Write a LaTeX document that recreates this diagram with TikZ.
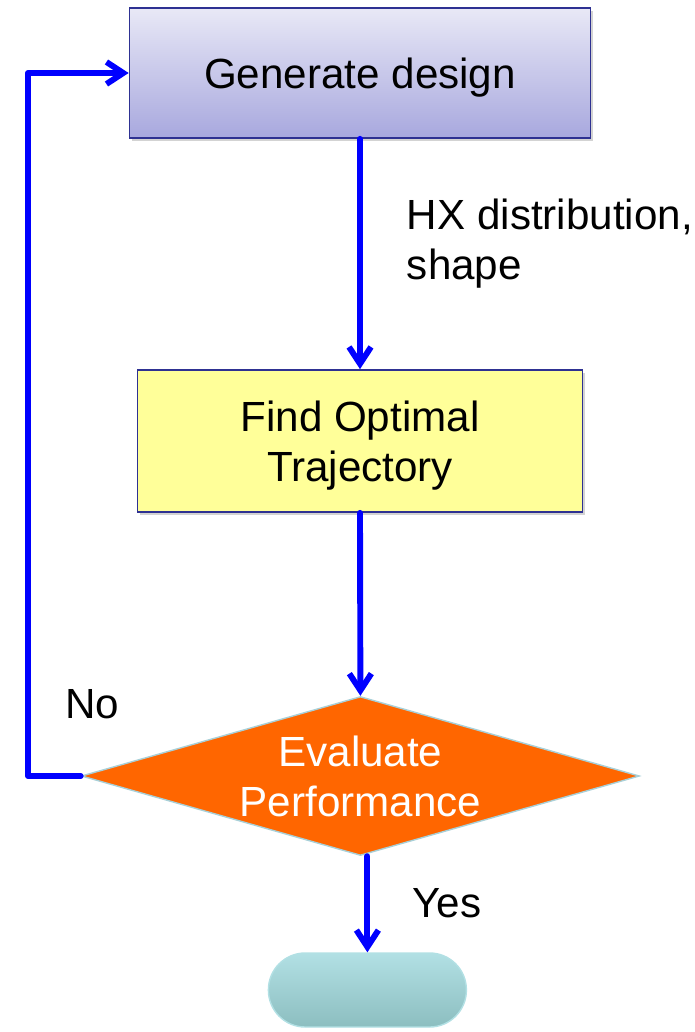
\documentclass[tikz,border=0pt]{standalone}
\usepackage{fontspec}
\setmainfont{Liberation Sans}
\usetikzlibrary{calc}
\usetikzlibrary{arrows.meta,shapes.geometric,shadows}

\definecolor{boxline}{RGB}{46,49,146}
\definecolor{gentop}{RGB}{232,232,246}
\definecolor{genbot}{RGB}{168,168,222}
\definecolor{trajfill}{RGB}{255,255,153}
\definecolor{evalfill}{RGB}{255,102,0}
\definecolor{evalline}{RGB}{168,208,216}
\definecolor{termtop}{RGB}{178,224,228}
\definecolor{termbot}{RGB}{140,190,192}

\begin{document}
\begin{tikzpicture}[font=\fontsize{30}{35.5}\selectfont,
	genbox/.style={rectangle, draw=boxline, line width=1.2pt, top color=gentop, bottom color=genbot, text depth=0pt, minimum width=11.525cm, minimum height=3.25cm, drop shadow={opacity=0.35, shadow xshift=0.06cm, shadow yshift=-0.08cm}},
	trajbox/.style={rectangle, draw=boxline, line width=1.2pt, fill=trajfill, align=center, text depth=0pt, minimum width=11.125cm, minimum height=3.55cm, drop shadow={opacity=0.35, shadow xshift=0.06cm, shadow yshift=-0.08cm}},
	evalbox/.style={diamond, draw=evalline, line width=1pt, fill=evalfill, text=white, align=center, inner sep=0pt, aspect=3.5, minimum width=13.95cm, minimum height=3.975cm},
	termbox/.style={rectangle, draw=termtop, line width=1pt, rounded corners=0.92cm, top color=termtop, bottom color=termbot, minimum width=4.95cm, minimum height=1.85cm},
	flow/.style={blue, line width=4.2pt, line cap=round, line join=round, -{Straight Barb[length=0.42cm, width=0.55cm, line width=4.2pt]}}]
			\useasboundingbox (0,0) rectangle (17.375,-25.8);

			\node[genbox] (gen) at (9,-1.825) {Generate design};
			\node[trajbox] (traj) at ($(gen) + (0,-9.2)$) {Find Optimal\\Trajectory};
			\node[evalbox] (eval) at ($(traj) + (0.01,-8.375)$) {Evaluate\\Performance};
			\node[termbox] (term) at ($(eval) + (0.175,-5.35)$) {};

			\node[anchor=west, align=left] (hx) at (10.05,-6.08) {HX distribution,\\shape};
			\node (no) at (2.3,-17.6) {No};
			\node (yes) at (11.175,-22.575) {Yes};

			\coordinate (loopx) at (0.7,0);

			\draw[flow] (gen.south) -- (traj.north);
			\draw[flow] (traj.south) -- (eval.north);
			\draw[flow] (term.north |- eval.south) -- (term.north);
			\draw[flow] (eval.west) -- (eval.west -| loopx) |- (gen.west);

		\end{tikzpicture}
\end{document}
